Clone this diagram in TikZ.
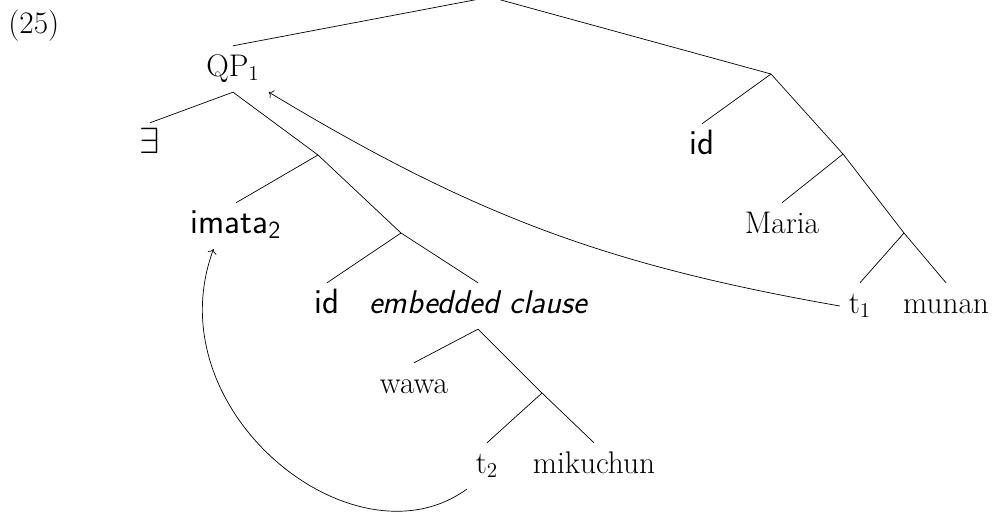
\documentclass[tikz,border=0pt]{standalone}
\usepackage{amsmath, amssymb}
\usetikzlibrary{arrows.meta,calc,positioning}

\begin{document}
\begin{tikzpicture}[x=0.02cm,y=-0.02cm,
    every node/.style={font=\fontsize{17.8}{21}\selectfont, anchor=base, text height=12pt, text depth=4pt, inner sep=5pt},
    sfword/.style={font=\fontsize{20}{23}\selectfont\sffamily},
    sfitword/.style={font=\fontsize{18.7}{22}\selectfont\sffamily\itshape}]
  \useasboundingbox (0,0) rectangle (995,515);

  % example number
  \node[anchor=base west, inner sep=0pt] (NUM) at (8,33) {(25)};

  % branching points
  \coordinate (root) at (490,-3);
  \coordinate (n1) at (318,155);
  \coordinate (n2) at (401,233);
  \coordinate (n3) at (542,393);
  \coordinate (n4) at (771,74);
  \coordinate (n5) at (843,154);
  \coordinate (n6) at (904,233);

  % left part of the tree
  \node (QP) at (233,76) {QP$_1$};
  \node[sfword] (EX) at (150,153) {$\exists$};
  \node[sfword] (IMATA) at (236,233) {imata\textsubscript{2}};
  \node[sfword] (IDL) at (327,313) {id};
  \node[sfitword] (EMB) at (478,313) {embedded clause};
  \node (WAWA) at (414,393) {wawa};
  \node (T2) at (487,473) {t$_2$};
  \node (MIKU) at (594,473) {mikuchun};

  % right part of the tree
  \node[sfword] (IDR) at (702,154) {id};
  \node (MARIA) at (782,233) {Maria};
  \node (T1) at (860,313) {t$_1$};
  \node (MUNAN) at (946,313) {munan};

  % branches
  \draw (root) -- (QP.north);
  \draw (root) -- (n4);
  \draw (QP.south) -- (EX.north);
  \draw (QP.south) -- (n1);
  \draw (n1) -- (IMATA.north);
  \draw (n1) -- (n2);
  \draw (n2) -- (IDL.north);
  \draw (n2) -- (EMB.north);
  \draw (EMB.south) -- (WAWA.north);
  \draw (EMB.south) -- (n3);
  \draw (n3) -- (T2.north);
  \draw (n3) -- (MIKU.north);
  \draw (n4) -- (IDR.north);
  \draw (n4) -- (n5);
  \draw (n5) -- (MARIA.north);
  \draw (n5) -- (n6);
  \draw (n6) -- (T1.north);
  \draw (n6) -- (MUNAN.north);

  % movement arrows
  \draw[->] (T1.west) .. controls +(-234,-41) and +(204,123) .. (QP.south east);
  \draw[->] (T2.south west) .. controls +(-113,82) and +(-60,161) .. ([xshift=-0.45cm]IMATA.south);
\end{tikzpicture}
\end{document}
